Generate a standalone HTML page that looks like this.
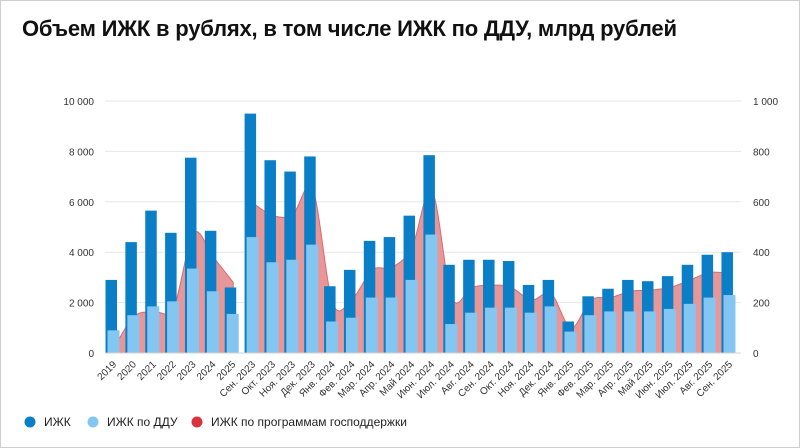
<!DOCTYPE html><html><head><meta charset="utf-8"><style>
html,body{margin:0;padding:0;background:#fff}
#w{position:relative;width:798px;height:446px;border:1px solid #cfcfcf;overflow:hidden;font-family:"Liberation Sans",sans-serif}
h1{position:absolute;left:21px;top:15px;margin:0;font-size:22px;font-weight:bold;color:#111;letter-spacing:-0.2px}
</style></head><body><div id="w"><h1>Объем ИЖК в рублях, в том числе ИЖК по ДДУ, млрд рублей</h1>
<svg id="s" width="798" height="446" style="position:absolute;left:0;top:0"></svg></div>
<script>
var labels=["2019","2020","2021","2022","2023","2024","2025","Сен. 2023","Окт. 2023","Ноя. 2023","Дек. 2023","Янв. 2024","Фев. 2024","Мар. 2024","Апр. 2024","Май 2024","Июн. 2024","Июл. 2024","Авг. 2024","Сен. 2024","Окт. 2024","Ноя. 2024","Дек. 2024","Янв. 2025","Фев. 2025","Мар. 2025","Апр. 2025","Май 2025","Июн. 2025","Июл. 2025","Авг. 2025","Сен. 2025"];
var d=[2.9,4.4,5.65,4.77,7.75,4.85,2.6,9.5,7.65,7.2,7.8,2.65,3.3,4.45,4.6,5.45,7.85,3.5,3.7,3.7,3.65,2.7,2.9,1.25,2.25,2.55,2.9,2.85,3.05,3.5,3.9,4.0];
var l=[.9,1.5,1.85,2.05,3.35,2.45,1.55,4.6,3.6,3.7,4.3,1.25,1.4,2.2,2.2,2.9,4.7,1.15,1.6,1.8,1.8,1.6,1.85,.85,1.5,1.65,1.65,1.65,1.75,1.95,2.2,2.3];
var r=[0.2,1.45,1.65,1.8,4.75,3.8,2.8,5.95,5.45,5.5,6.5,2.0,2.15,3.3,3.4,4.2,6.45,2.2,2.6,2.7,2.6,2.1,2.35,1.0,2.1,2.2,2.45,2.5,2.6,2.9,3.2,3.15];
var x0=103,sw=19.87,base=352,k=25.2,h='';
function Y(v){return base-v*k}
for(var i=0;i<=5;i++){var y=Y(i*2);h+='<line x1="104" x2="740" y1="'+y+'" y2="'+y+'" stroke="#e6e6e6"/>';
h+='<text x="93" y="'+(y+4)+'" font-size="10" text-anchor="end" fill="#333">'+(i==0?'0':(i*2)+' 000')+'</text>';
h+='<text x="752" y="'+(y+4)+'" font-size="10" fill="#333">'+(i==0?'0':i==5?'1 000':(i*200))+'</text>';}
function path(a,b){var p=[];for(var i=a;i<=b;i++)p.push([x0+i*sw+10,Y(r[i])]);
var s='M'+p[0][0]+','+base+'L'+p[0][0]+','+p[0][1];
for(var i=0;i<p.length-1;i++){var p0=p[i-1]||p[i],p1=p[i],p2=p[i+1],p3=p[i+2]||p2;
s+='C'+(p1[0]+(p2[0]-p0[0])/6)+','+(p1[1]+(p2[1]-p0[1])/6)+' '+(p2[0]-(p3[0]-p1[0])/6)+','+(p2[1]-(p3[1]-p1[1])/6)+' '+p2[0]+','+p2[1];}
s+='L'+p[p.length-1][0]+','+base+'Z';return '<path d="'+s+'" fill="#e89799" stroke="#d96a6d" stroke-width="1"/>';}
h+=path(0,6)+path(7,31);
for(var i=0;i<32;i++){var s=x0+i*sw;
h+='<rect x="'+(s+1.5)+'" y="'+Y(d[i])+'" width="11.5" height="'+(d[i]*k)+'" fill="#0a7fc8"/>';
h+='<rect x="'+(s+3.5)+'" y="'+Y(l[i])+'" width="12" height="'+(l[i]*k)+'" fill="#84c6f2"/>';
var cx=s+13;h+='<text transform="translate('+cx+',364) rotate(-45)" font-size="10" text-anchor="end" fill="#333">'+labels[i]+'</text>';}
h+='<line x1="104" x2="740" y1="'+base+'" y2="'+base+'" stroke="#d0d0d0"/>';
var lg=[[29,'#0a7fc8','ИЖК'],[92,'#84c6f2','ИЖК по ДДУ'],[196,'#d9333f','ИЖК по программам господдержки']];
lg.forEach(function(a){h+='<circle cx="'+a[0]+'" cy="421" r="5.5" fill="'+a[1]+'"/><text x="'+(a[0]+14)+'" y="425" font-size="12" fill="#222">'+a[2]+'</text>';});
document.getElementById('s').innerHTML=h;
</script></body></html>
